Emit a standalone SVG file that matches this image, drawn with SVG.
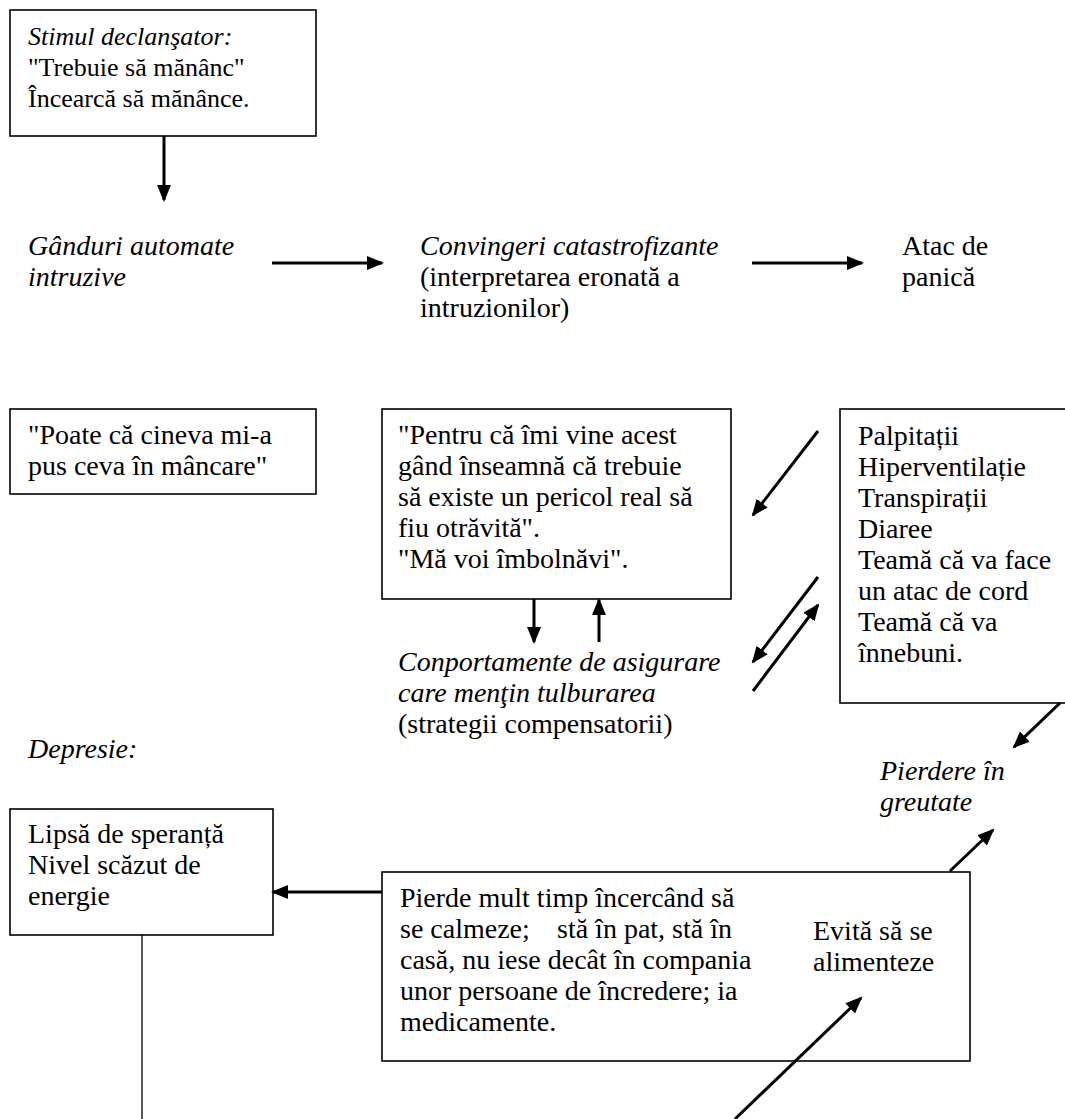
<svg xmlns="http://www.w3.org/2000/svg" width="1065" height="1119" viewBox="0 0 1065 1119">
  <style>
    text { font-family: "Liberation Serif", "Times New Roman", serif; font-size: 28px; fill: #000; }
    .sm { font-size: 26px; }
    .it { font-style: italic; }
    .box { fill: #fff; stroke: #000; stroke-width: 1.6; }
    .arr { stroke: #000; stroke-width: 3; fill: none; marker-end: url(#ah); }
    .thin { stroke: #000; stroke-width: 1.3; fill: none; }
  </style>
  <defs>
    <marker id="ah" markerUnits="userSpaceOnUse" markerWidth="18" markerHeight="16" refX="15" refY="7" orient="auto">
      <path d="M0,0 L17,7 L0,14 z" fill="#000"/>
    </marker>
  </defs>
  <rect width="1065" height="1119" fill="#fff"/>

  <g id="stimul">
    <rect class="box" x="10" y="10" width="306" height="126"/>
    <text x="28" y="45" class="it sm">Stimul declanşator:</text>
    <text x="28" y="76" class="sm">"Trebuie să mănânc"</text>
    <text x="28" y="107" class="sm">Încearcă să mănânce.</text>
  </g>

  <g id="ganduri">
    <text x="28" y="255" class="it">Gânduri automate</text>
    <text x="28" y="286" class="it">intruzive</text>
  </g>

  <g id="convingeri">
    <text x="420" y="255" class="it">Convingeri catastrofizante</text>
    <text x="420" y="286">(interpretarea eronată a</text>
    <text x="420" y="317">intruzionilor)</text>
  </g>

  <g id="atac">
    <text x="902" y="255">Atac de</text>
    <text x="902" y="286">panică</text>
  </g>

  <g id="poate">
    <rect class="box" x="10" y="409" width="306" height="85"/>
    <text x="28" y="444">"Poate că cineva mi-a</text>
    <text x="28" y="475">pus ceva în mâncare"</text>
  </g>

  <g id="pentru">
    <rect class="box" x="382" y="409" width="349" height="190"/>
    <text x="398" y="444">"Pentru că îmi vine acest</text>
    <text x="398" y="475">gând înseamnă că trebuie</text>
    <text x="398" y="506">să existe un pericol real să</text>
    <text x="398" y="537">fiu otrăvită".</text>
    <text x="398" y="568">"Mă voi îmbolnăvi".</text>
  </g>

  <g id="simptome">
    <rect class="box" x="840" y="409" width="240" height="294"/>
    <text x="858" y="445">Palpitații</text>
    <text x="858" y="476">Hiperventilație</text>
    <text x="858" y="507">Transpirații</text>
    <text x="858" y="538">Diaree</text>
    <text x="858" y="569">Teamă că va face</text>
    <text x="858" y="600">un atac de cord</text>
    <text x="858" y="631">Teamă că va</text>
    <text x="858" y="662">înnebuni.</text>
  </g>

  <g id="comportamente">
    <text x="398" y="671" class="it">Conportamente de asigurare</text>
    <text x="398" y="702" class="it">care menţin tulburarea</text>
    <text x="398" y="733">(strategii compensatorii)</text>
  </g>

  <g id="depresie">
    <text x="28" y="758" class="it">Depresie:</text>
  </g>

  <g id="pierdere">
    <text x="880" y="780" class="it">Pierdere în</text>
    <text x="880" y="811" class="it">greutate</text>
  </g>

  <g id="lipsa">
    <rect class="box" x="10" y="809" width="263" height="126"/>
    <text x="28" y="843">Lipsă de speranță</text>
    <text x="28" y="874">Nivel scăzut de</text>
    <text x="28" y="905">energie</text>
  </g>

  <g id="pierde">
    <rect class="box" x="382" y="872" width="588" height="189"/>
    <text x="400" y="907">Pierde mult timp încercând să</text>
    <text x="400" y="938">se calmeze;<tspan x="557">stă în pat, stă în</tspan></text>
    <text x="400" y="969">casă, nu iese decât în compania</text>
    <text x="400" y="1000">unor persoane de încredere; ia</text>
    <text x="400" y="1031">medicamente.</text>
    <text x="813" y="940">Evită să se</text>
    <text x="813" y="971">alimenteze</text>
  </g>

  <g id="connectors">
    <line class="arr" x1="164" y1="136" x2="164" y2="200"/>
    <line class="arr" x1="272" y1="263" x2="382" y2="263"/>
    <line class="arr" x1="752" y1="263" x2="862" y2="263"/>
    <line class="arr" x1="818" y1="431" x2="753" y2="515"/>
    <line class="arr" x1="818" y1="577" x2="753" y2="662"/>
    <line class="arr" x1="753" y1="691" x2="818" y2="605"/>
    <line class="arr" x1="534" y1="599" x2="534" y2="642"/>
    <line class="arr" x1="599" y1="642" x2="599" y2="600"/>
    <line class="arr" x1="1060" y1="703" x2="1014" y2="747"/>
    <line class="arr" x1="950" y1="871" x2="993" y2="830"/>
    <line class="arr" x1="735" y1="1119" x2="861" y2="998"/>
    <line class="arr" x1="382" y1="892" x2="273" y2="892"/>
    <line class="thin" x1="142" y1="935" x2="142" y2="1119"/>
  </g>
</svg>
